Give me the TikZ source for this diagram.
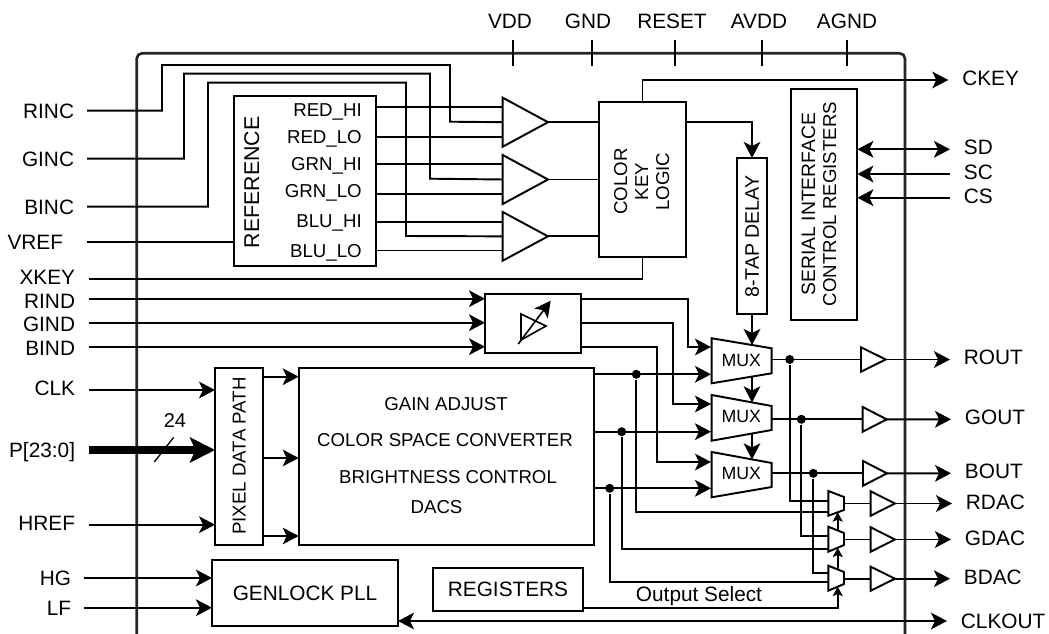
\documentclass[tikz,border=0pt]{standalone}
\usepackage{fontspec}
\setmainfont{Liberation Sans}
\usetikzlibrary{arrows.meta}
\newdimen\px \px=0.75pt
\newcommand{\ampsym}[5]{%
  \draw[fill=white] (#2,#4) -- (#2,#5) -- (#3,{(#4+#5)/2}) -- cycle;
  \coordinate (#1w) at (#2,{(#4+#5)/2});
  \coordinate (#1) at (#3,{(#4+#5)/2});}
\newcommand{\muxsym}[8]{%
  \draw[fill=white] (#2,#4) -- (#2,#5) -- (#3,#7) -- (#3,#6) -- cycle;
  \coordinate (#1) at (#3,{(#6+#7)/2});
  \coordinate (#1t) at (#8,{#4+(#6-#4)*(#8-#2)/(#3-#2)});
  \coordinate (#1u) at (#8,{#5+(#7-#5)*(#8-#2)/(#3-#2)});}

\begin{document}
\begin{tikzpicture}[
  x=0.75pt, y=-0.75pt, line width=1.45pt,
  font=\fontsize{15.6}{18}\selectfont,
  >={Stealth[length=12pt, width=12.5pt, inset=3pt]},
  blk/.style={draw, inner sep=0pt, outer sep=0pt, align=center},
  lbl/.style={font=\fontsize{14}{15.75}\selectfont, inner sep=0pt, align=center},
  pinl/.style={anchor=east, inner xsep=12\px, inner ysep=0pt, text height=15\px, text depth=0pt},
  pinr/.style={anchor=west, inner xsep=13\px, inner ysep=0pt, text height=15\px, text depth=4\px},
  pint/.style={inner sep=0pt},
  dot/.style={circle, fill=black, inner sep=0pt, minimum size=9\px},
  smallhead/.style={>={Stealth[length=7pt, width=7.5pt, inset=1.5pt]}},
]
  \useasboundingbox (0,0) rectangle (1049,634);

  % chip outline
  \draw[line width=2pt, black!85, rounded corners=4pt] (136.7,634) -- (136.7,53.3) -- (905,53.3) -- (905,634);

  % supplies
  \foreach \lab/\tx/\lx in {VDD/513/510, GND/592/588, RESET/675/672, AVDD/762/759, AGND/847/847} {
    \node[pint] (\lab) at (\lx,21.5) {\lab};
    \coordinate (\lab t) at (\tx,40);
    \draw (\lab t) -- (\tx,65.7);
  }

  % blocks
  \node[blk, minimum width=142\px, minimum height=170\px] (ref) at (305,181) {};
  \node[blk, minimum width=87\px, minimum height=155.3\px] (key) at (642.5,179.4) {};
  \node[blk, minimum width=30\px, minimum height=156\px] (delay) at (752,236) {};
  \node[blk, minimum width=66.3\px, minimum height=231\px] (serial) at (824.2,204.5) {};
  \node[blk, minimum width=96\px, minimum height=58.7\px] (adj) at (533,323.4) {};
  \node[blk, minimum width=48.3\px, minimum height=177\px] (pix) at (239.2,456.2) {};
  \node[blk, minimum width=295\px, minimum height=177\px] (main) at (446.2,456.2) {};
  \node[blk, minimum width=186\px, minimum height=66\px] (gen) at (305,593) {GENLOCK PLL};
  \node[blk, minimum width=150\px, minimum height=42.4\px] (regs) at (508,589.5) {REGISTERS};

  \node[inner sep=0pt, rotate=90] (reftxt) at (251.7,182.5) {\fontsize{16}{18}\selectfont REFERENCE};
  \node[lbl, rotate=90] (keytxt) at (641.7,181.7) {COLOR\\KEY\\LOGIC};
  \node[lbl, rotate=90] (delaytxt) at (752,236.7) {\fontsize{14.7}{16}\selectfont 8-TAP DELAY};
  \node[lbl, rotate=90] (serialtxt) at (819,204) {\fontsize{14.5}{16.5}\selectfont SERIAL INTERFACE\\CONTROL REGISTERS};
  \node[lbl, rotate=90] (pixtxt) at (239.2,456) {PIXEL DATA PATH};
  \node[lbl] (gaintxt) at (446,404) {GAIN ADJUST};
  \node[lbl] (csctxt) at (445,440) {COLOR SPACE CONVERTER};
  \node[lbl] (brtxt) at (448,476.7) {BRIGHTNESS CONTROL};
  \node[lbl] (dactxt) at (436.5,506.7) {DACS};

  \node[lbl, anchor=base east] (rh) at (362.7,117) {RED\_HI};
  \node[lbl, anchor=base east] (rl) at (362.7,144) {RED\_LO};
  \node[lbl, anchor=base east] (gh) at (362.7,171) {GRN\_HI};
  \node[lbl, anchor=base east] (gl) at (362.7,198) {GRN\_LO};
  \node[lbl, anchor=base east] (bh) at (362.7,228) {BLU\_HI};
  \node[lbl, anchor=base east] (bl) at (362.7,258) {BLU\_LO};

  % comparators
  \ampsym{a1}{502.7}{548}{97.7}{146.7}
  \ampsym{a2}{502.7}{548}{155}{204}
  \ampsym{a3}{502.7}{548}{212}{260.7}

  % muxes
  \muxsym{m1}{711.7}{771.7}{338.3}{383.3}{348.3}{373.3}{752}
  \muxsym{m2}{711.7}{771.7}{395}{440.7}{406}{430}{752}
  \muxsym{m3}{711.7}{771.7}{452}{497.3}{463}{487}{752}
  \node[lbl, font=\fontsize{13.3}{16}\selectfont] (m1txt) at (741.3,360) {MUX};
  \node[lbl, font=\fontsize{13.3}{16}\selectfont] (m2txt) at (741.3,416.7) {MUX};
  \node[lbl, font=\fontsize{13.3}{16}\selectfont] (m3txt) at (741.3,473.3) {MUX};
  \muxsym{r1}{828.3}{844}{491}{515.7}{497}{510}{837.7}
  \muxsym{r2}{828.3}{844}{526.7}{551.7}{533}{545}{837.7}
  \muxsym{r3}{828.3}{844}{565.7}{590.7}{572}{584}{837.7}
  \coordinate (m1a) at (711,347);
  \coordinate (m1b) at (711,374.3);
  \coordinate (m2a) at (711,404);
  \coordinate (m2b) at (711,431.7);
  \coordinate (m3a) at (711,462);
  \coordinate (m3b) at (711,488.3);
  \coordinate (r1a) at (828.3,501);
  \coordinate (r1b) at (828.3,512);
  \coordinate (r2a) at (828.3,535.7);
  \coordinate (r2b) at (828.3,549);
  \coordinate (r3a) at (828.3,572.7);
  \coordinate (r3b) at (828.3,581.7);

  % output buffers
  \ampsym{b1}{861}{885.7}{347.3}{371.7}
  \ampsym{b2}{862.7}{886.7}{407}{431.7}
  \ampsym{b3}{863}{887}{461}{485.7}
  \ampsym{c1}{870.7}{895}{491.3}{515.7}
  \ampsym{c2}{870.7}{895}{527.3}{551.7}
  \ampsym{c3}{870.7}{895}{566.7}{590.7}

  % pins
  \node[pinl] (rinc) at (87,110.7) {RINC};
  \node[pinl] (ginc) at (87,158.7) {GINC};
  \node[pinl] (binc) at (87,206.7) {BINC};
  \node[pinl, inner xsep=23\px] (vref) at (87,241.7) {VREF};
  \node[pinl, inner xsep=13\px, text depth=4\px] (xkey) at (89,278.7) {XKEY};
  \node[pinl, inner xsep=13\px, text height=19\px] (rind) at (89,298.7) {RIND};
  \node[pinl, inner xsep=13\px, text height=17\px] (gind) at (89,322.7) {GIND};
  \node[pinl, inner xsep=13\px, text height=17\px] (bind) at (89,346.7) {BIND};
  \node[pinl, inner xsep=13\px, text depth=4\px] (clk) at (89,390) {CLK};
  \node[pinl, inner xsep=13\px] (pbus) at (89,450) {P[23:0]};
  \node[pinl, inner xsep=13\px, text depth=4\px] (href) at (89,524.7) {HREF};
  \node[pinl] (hg) at (84,578) {HG};
  \node[pinl] (lf) at (84,607.7) {LF};

  \node[pinr] (ckey) at (948.3,80) {CKEY};
  \node[pinr] (sd) at (950,149.3) {SD};
  \node[pinr] (sc) at (950,174) {SC};
  \node[pinr] (cs) at (950,197.7) {CS};
  \node[pinr] (rout) at (950,359.5) {ROUT};
  \node[pinr] (gout) at (951,419.3) {GOUT};
  \node[pinr] (bout) at (951,473.3) {BOUT};
  \node[pinr] (rdac) at (952,503.5) {RDAC};
  \node[pinr] (gdac) at (951,539.5) {GDAC};
  \node[pinr] (bdac) at (950,578.7) {BDAC};
  \node[pinr, text depth=0pt] (clkout) at (947,621) {CLKOUT};

  % colour reference wires
  \draw (rinc.east) -| (162,65) -| (450,121.7) -- (a1w);
  \draw (ginc.east) -| (184,73.7) -| (430,178.7) -- (a2w);
  \draw (binc.east) -| (208,82.7) -| (406,236) -- (a3w);
  \draw (vref.east) -- (vref -| ref.west);
  \coordinate (a1p) at (502.7,106.6);
  \coordinate (a1q) at (502.7,136.7);
  \coordinate (a2p) at (502.7,163.7);
  \coordinate (a2q) at (502.7,193.7);
  \coordinate (a3p) at (502.7,221.8);
  \coordinate (a3q) at (502.7,250.5);
  \draw (ref.east |- a1p) -- (a1p);
  \draw (ref.east |- a1q) -- (a1q);
  \draw (ref.east |- a2p) -- (a2p);
  \draw (ref.east |- a2q) -- (a2q);
  \draw (ref.east |- a3p) -- (a3p);
  \draw (ref.east |- a3q) -- (a3q);
  \draw (a1) -- (a1 -| key.west);
  \draw (a2) -- (a2 -| key.west);
  \draw (a3) -- (a3 -| key.west);

  % colour key
  \draw[->] (key.north) |- (ckey.west);
  \draw (xkey.east) -| (key.south);
  \draw[->] (key.east |- a1) -| (delay.north);
  \draw[->] (delay.south) -- (m1t);
  \draw[->] (m1u) -- (m2t);
  \draw[->] (m2u) -- (m3t);

  % serial port
  \draw[<->] (serial.east |- sd) -- (sd.west);
  \draw[<-] (serial.east |- sc) -- (sc.west);
  \draw[<-] (serial.east |- cs) -- (cs.west);

  % analog inputs
  \draw[->] (rind.east) -- (rind -| adj.west);
  \draw[->] (gind.east) -- (gind -| adj.west);
  \draw[->] (bind.east) -- (bind -| adj.west);
  \coordinate (ph1) at (518.3,344);
  \coordinate (ph2) at (550.7,300.7);
  \draw[line width=1.2pt] (521,314) -- (521,340) -- (546,326) -- cycle;
  \draw[->, line width=1.2pt] (ph1) -- (ph2);
  \draw[->] (adj.east |- rind) -| (688,347) -- (m1a);
  \draw[->] (adj.east |- gind) -| (672.7,404) -- (m2a);
  \draw[->] (adj.east |- bind) -| (657,462) -- (m3a);

  % pixel path
  \draw[->] (clk.east) -- (clk -| pix.west);
  \draw[->] (href.east) -- (href -| pix.west);
  \draw[line width=6pt, -{Stealth[length=18.75pt, width=18.75pt, inset=4pt]}] (pbus.east) -- (pbus -| pix.west);
  \coordinate (sla) at (154.3,462);
  \coordinate (slb) at (173.7,437.3);
  \draw[line width=1pt] (sla) -- (slb);
  \node[pint, font=\fontsize{15}{18}\selectfont] (buswidth) at (175,421) {24};
  \coordinate (pa) at (298.7,376.7);
  \coordinate (pb) at (298.7,458);
  \coordinate (pc) at (298.7,536);
  \draw[->] (pix.east |- pa) -- (pa);
  \draw[->] (pix.east |- pb) -- (pb);
  \draw[->] (pix.east |- pc) -- (pc);

  % digital to muxes
  \node[dot] (d1) at (636.3,374.3) {};
  \node[dot] (d2) at (621.7,431.7) {};
  \node[dot] (d3) at (609.7,488.3) {};
  \draw[->] (main.east |- d1) -- (m1b);
  \draw[->] (main.east |- d2) -- (m2b);
  \draw[->] (main.east |- d3) -- (m3b);
  \draw (d1) |- (r1b);
  \draw (d2) |- (r2b);
  \draw (d3) |- (r3b);

  % mux outputs
  \node[dot] (d4) at (789.7,359.5) {};
  \node[dot] (d5) at (801.3,419.3) {};
  \node[dot] (d6) at (813.3,473.3) {};
  \draw (m1 |- b1w) -- (b1w);
  \draw (m2 |- b2w) -- (b2w);
  \draw (m3 |- b3w) -- (b3w);
  \draw (d4) |- (r1a);
  \draw (d5) |- (r2a);
  \draw (d6) |- (r3a);
  \draw[->] (b1) -- (rout.west);
  \draw[->] (b2) -- (gout.west);
  \draw[->] (b3) -- (bout.west);
  \draw (r1 |- c1w) -- (c1w);
  \draw (r2 |- c2w) -- (c2w);
  \draw (r3 |- c3w) -- (c3w);
  \draw[->] (c1) -- (rdac.west);
  \draw[->] (c2) -- (gdac.west);
  \draw[->] (c3) -- (bdac.west);

  % output select
  \coordinate (seljoin) at (837.7,607.7);
  \node[pint, anchor=base] (seltxt) at (699,601.7) {Output Select};
  \draw[smallhead, ->] (regs.east |- seljoin) -| (r3u);
  \draw[smallhead, ->] (r3t) -- (r2u);
  \draw[smallhead, ->] (r2t) -- (r1u);

  % genlock
  \draw[->] (hg.east) -- (hg -| gen.west);
  \draw[->] (lf.east) -- (lf -| gen.west);
  \draw[<->] (gen.east |- clkout) -- (clkout.west);
\end{tikzpicture}
\end{document}
